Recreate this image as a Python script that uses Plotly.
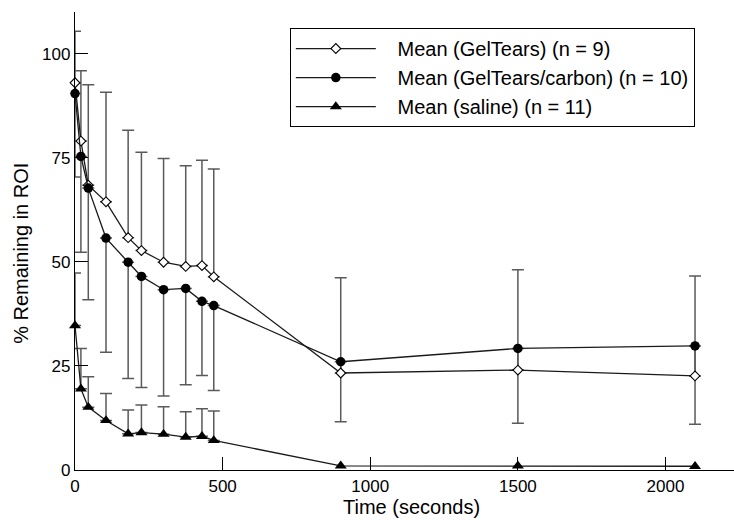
import plotly.graph_objects as go

# Time points (seconds)
times = [0, 20, 45, 105, 180, 225, 300, 375, 430, 470, 900, 1500, 2100]

# Mean % remaining in ROI
gel_mean = [93.0, 79.0, 68.4, 64.4, 55.8, 52.7, 49.9, 48.9, 49.1, 46.4, 23.3, 24.0, 22.6]
carbon_mean = [90.4, 75.3, 67.7, 55.7, 49.9, 46.5, 43.3, 43.6, 40.5, 39.5, 26.0, 29.2, 29.8]
saline_mean = [34.7, 19.5, 15.1, 11.9, 8.7, 9.0, 8.6, 7.9, 8.1, 7.1, 1.0, 1.0, 0.9]

# One-sided error bars (SD): GelTears upward, carbon downward, saline upward
gel_err_up = [12.4, 16.9, 24.1, 26.3, 25.8, 23.6, 24.9, 24.2, 25.3, 25.9, 22.9, 24.1, 24.0]
carbon_err_down = [20.0, 23.0, 26.8, 27.4, 27.9, 26.7, 25.5, 23.1, 17.8, 20.4, 14.4, 18.0, 18.8]
saline_err_up = [12.6, 9.7, 7.3, 6.5, 5.7, 6.6, 6.6, 6.1, 6.6, 7.1, None, None, None]

legend_names = ["Mean (GelTears) (n = 9)",
                "Mean (GelTears/carbon) (n = 10)",
                "Mean (saline) (n = 11)"]

FONT = "Liberation Sans, Arial, Helvetica, sans-serif"
ERR_COLOR = "#5a5a5a"
LINE_COLOR = "#1a1a1a"
PAD = "\u00a0\u00a0\u00a0"

fig = go.Figure()


def err_trace(means, errs, direction):
    xs, ys, half = [], [], []
    for t, m, e in zip(times, means, errs):
        if e is None:
            continue
        xs.append(t)
        ys.append(m + direction * e / 2.0)
        half.append(e / 2.0)
    return go.Scatter(
        x=xs, y=ys, mode="markers",
        marker=dict(size=1, opacity=0),
        error_y=dict(type="data", array=half, symmetric=True,
                     color=ERR_COLOR, thickness=1.5, width=6),
        showlegend=False, hoverinfo="skip", cliponaxis=False,
    )


fig.add_trace(err_trace(gel_mean, gel_err_up, 1))
fig.add_trace(err_trace(carbon_mean, carbon_err_down, -1))
fig.add_trace(err_trace(saline_mean, saline_err_up, 1))

fig.add_trace(go.Scatter(
    x=times, y=gel_mean, mode="lines+markers", name=PAD + legend_names[0],
    line=dict(color=LINE_COLOR, width=1.3),
    marker=dict(symbol="diamond", size=7.5, color="white",
                line=dict(color="black", width=1.1)),
    cliponaxis=False,
))
fig.add_trace(go.Scatter(
    x=times, y=carbon_mean, mode="lines+markers", name=PAD + legend_names[1],
    line=dict(color=LINE_COLOR, width=1.3),
    marker=dict(symbol="circle", size=9.5, color="black"),
    cliponaxis=False,
))
fig.add_trace(go.Scatter(
    x=times, y=saline_mean, mode="lines+markers", name=PAD + legend_names[2],
    line=dict(color=LINE_COLOR, width=1.3),
    marker=dict(symbol="triangle-up", size=10.5, color="black"),
    cliponaxis=False,
))

fig.update_layout(
    width=734, height=520,
    margin=dict(l=75, r=0, t=12, b=50, pad=0),
    paper_bgcolor="white", plot_bgcolor="white",
    font=dict(family=FONT, size=17, color="black"),
    showlegend=True,
    legend=dict(
        x=0.326, y=0.965, xanchor="left", yanchor="top",
        bgcolor="white", bordercolor="black", borderwidth=1,
        font=dict(family=FONT, size=20, color="black"),
        itemwidth=80,
    ),
    xaxis=dict(
        range=[0, 2232], tickvals=[0, 500, 1000, 1500, 2000],
        ticks="inside", ticklen=13, tickwidth=1, tickcolor="black",
        showline=True, linecolor="black", linewidth=1.3,
        showgrid=False, zeroline=False,
        tickfont=dict(size=17),
    ),
    yaxis=dict(
        range=[0, 110], tickvals=[0, 25, 50, 75, 100],
        ticks="inside", ticklen=13, tickwidth=1, tickcolor="black",
        showline=True, linecolor="black", linewidth=1.3,
        showgrid=False, zeroline=False,
        tickfont=dict(size=17),
    ),
    annotations=[
        dict(text="Time (seconds)", xref="paper", yref="paper",
             x=0.51, y=-0.081, xanchor="center", yanchor="middle",
             showarrow=False, font=dict(size=20)),
        dict(text="% Remaining in ROI", xref="paper", yref="paper",
             x=-0.082, y=0.474, xanchor="center", yanchor="middle",
             textangle=-90, showarrow=False, font=dict(size=20)),
    ],
)

fig.write_html(
    "out.html",
    config={"displayModeBar": False},
    post_script="document.body.style.margin='0';document.body.style.padding='0';",
)
